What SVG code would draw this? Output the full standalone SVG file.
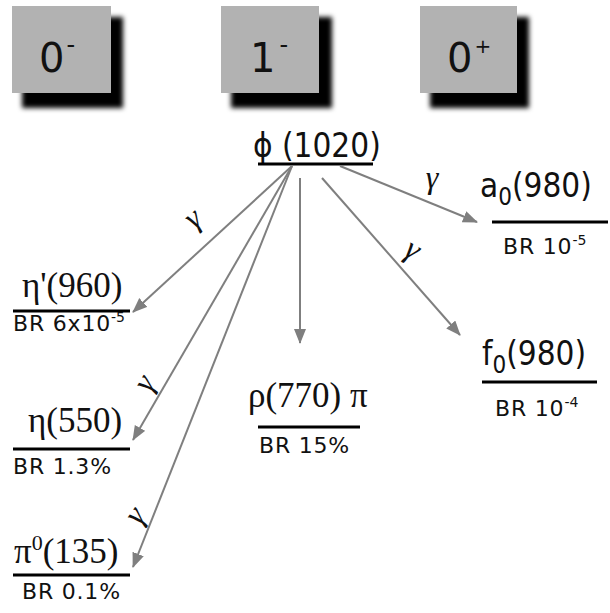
<svg xmlns="http://www.w3.org/2000/svg" width="610" height="613" viewBox="0 0 610 613">
<style>
.box{fill:#b2b2b2}
.shadow{fill:#000}
.btxt{font-family:"DejaVu Sans",sans-serif;font-size:40px;fill:#111}
.bsup{font-size:24px}
.lbl{font-family:"DejaVu Sans Condensed","DejaVu Sans",sans-serif;font-size:33px;fill:#111}
.ser{font-family:"Liberation Serif",serif;font-size:35px;fill:#111}
.br{font-family:"DejaVu Sans",sans-serif;font-size:22px;letter-spacing:0.8px;fill:#111}
.sup{font-size:14px;letter-spacing:0}
.bar{stroke:#000;stroke-width:3}
.arr{stroke:#7f7f7f;stroke-width:2;fill:none;marker-end:url(#ah)}
.g{font-family:"Liberation Serif",serif;font-style:italic;font-size:32px;fill:#111}
</style>
<defs>
<filter id="blur" x="-20%" y="-20%" width="140%" height="140%"><feGaussianBlur stdDeviation="2.5"/></filter>
<marker id="ah" markerUnits="userSpaceOnUse" markerWidth="16" markerHeight="14" refX="14" refY="6" orient="auto"><path d="M0,0 L15,6 L0,12 Z" fill="#7f7f7f"/></marker>
</defs>
<rect width="610" height="613" fill="#fff"/>
<g id="box-0minus">
<rect class="shadow" x="22" y="17" width="101" height="91" filter="url(#blur)"/>
<rect class="box" x="12" y="6" width="99" height="87"/>
<text class="btxt" x="39" y="72">0<tspan class="bsup" dx="2" dy="-19">-</tspan></text>
</g>
<g id="box-1minus">
<rect class="shadow" x="231" y="17" width="101" height="91" filter="url(#blur)"/>
<rect class="box" x="221" y="6" width="98" height="87"/>
<text class="btxt" x="250" y="72">1<tspan class="bsup" dx="4" dy="-19">-</tspan></text>
</g>
<g id="box-0plus">
<rect class="shadow" x="430" y="17" width="99" height="91" filter="url(#blur)"/>
<rect class="box" x="420" y="6" width="97" height="87"/>
<text class="btxt" x="447" y="72">0<tspan font-size="20" dx="2" dy="-19">+</tspan></text>
</g>
<g id="phi">
<text class="lbl" x="253" y="157">ϕ (1020)</text>
<line class="bar" x1="258" y1="164" x2="373" y2="164"/>
</g>
<g id="etaprime">
<text class="ser" x="22" y="297">η'(960)</text>
<line class="bar" x1="13" y1="311" x2="130" y2="311"/>
<text class="br" x="13" y="331">BR 6x10<tspan class="sup" dy="-9">-5</tspan></text>
</g>
<g id="eta">
<text class="ser" x="28" y="432">η(550)</text>
<line class="bar" x1="13" y1="449" x2="130" y2="449"/>
<text class="br" x="13" y="474">BR 1.3%</text>
</g>
<g id="pi0">
<text class="ser" x="14" y="563">π<tspan font-size="22" dy="-13">0</tspan><tspan dy="13">(135)</tspan></text>
<line class="bar" x1="13" y1="575" x2="130" y2="575"/>
<text class="br" x="22" y="599">BR 0.1%</text>
</g>
<g id="rhopi">
<text class="ser" x="248" y="407">ρ(770) π</text>
<line class="bar" x1="258" y1="427" x2="360" y2="427"/>
<text class="br" x="259" y="453">BR 15%</text>
</g>
<g id="a0">
<text class="lbl" x="480" y="197" font-size="35">a<tspan font-size="24" dy="8">0</tspan><tspan dy="-8">(980)</tspan></text>
<line class="bar" x1="492" y1="222" x2="608" y2="222"/>
<text class="br" x="503" y="254">BR 10<tspan class="sup" dy="-9">-5</tspan></text>
</g>
<g id="f0">
<text class="lbl" x="482" y="365" font-size="35">f<tspan font-size="24" dy="8">0</tspan><tspan dy="-8">(980)</tspan></text>
<line class="bar" x1="482" y1="382" x2="597" y2="382"/>
<text class="br" x="495" y="416">BR 10<tspan class="sup" dy="-9">-4</tspan></text>
</g>
<g id="connectors">
<line class="arr" x1="292" y1="166" x2="133" y2="312"/>
<line class="arr" x1="292" y1="166" x2="133" y2="440"/>
<line class="arr" x1="292" y1="166" x2="133" y2="567"/>
<line class="arr" x1="300" y1="178" x2="300" y2="343"/>
<line class="arr" x1="322" y1="178" x2="460" y2="335"/>
<line class="arr" x1="340" y1="166" x2="477" y2="222"/>
<text class="g" transform="translate(199,226) rotate(-40)" text-anchor="middle">γ</text>
<text class="g" transform="translate(432,188)" text-anchor="middle">γ</text>
<text class="g" transform="translate(408,258) rotate(30)" text-anchor="middle">γ</text>
<text class="g" transform="translate(153,388) rotate(-60)" text-anchor="middle">γ</text>
<text class="g" transform="translate(143,521) rotate(-55)" text-anchor="middle">γ</text>
</g>
</svg>
